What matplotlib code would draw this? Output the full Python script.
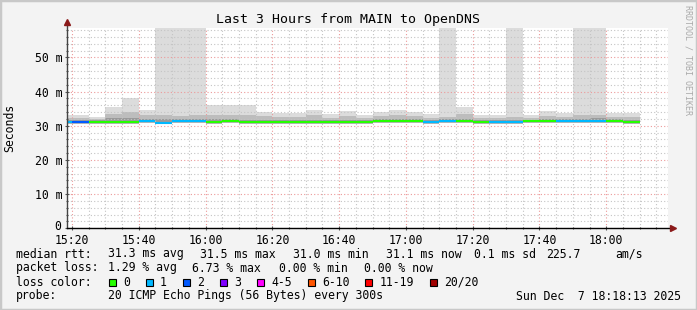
import matplotlib
matplotlib.use('Agg')
import matplotlib.pyplot as plt
import matplotlib.patches as mpatches
import matplotlib.transforms as mtransforms
import numpy as np

# ── Data ──────────────────────────────────────────────────────────────────────
# 5-minute steps, minutes after 15:00 (first step starts 15:15)
step_start = [15, 20, 25, 30, 35, 40, 45, 50, 55, 60, 65, 70, 75, 80, 85, 90, 95, 100,
              105, 110, 115, 120, 125, 130, 135, 140, 145, 150, 155, 160, 165, 170,
              175, 180, 185]
step_len = 5

# median rtt (ms)
rtt_median = [31.0, 31.0, 31.0, 31.0, 31.0, 31.3, 30.9, 31.3, 31.3, 31.0, 31.3, 31.0,
              31.0, 31.0, 31.0, 31.0, 31.0, 31.0, 31.0, 31.3, 31.3, 31.3, 31.0, 31.3,
              31.3, 31.0, 31.0, 31.0, 31.3, 31.3, 31.3, 31.3, 31.3, 31.3, 31.0]
# smoke: highest ping (ms), tall ones run off the top
rtt_max = [33.2, 33.0, 32.6, 35.4, 38.0, 34.7, 62.0, 62.0, 62.0, 36.0, 36.0, 36.0,
           34.0, 33.8, 33.8, 34.5, 33.5, 34.3, 33.2, 34.0, 34.5, 34.0, 33.5, 62.0,
           35.5, 33.0, 33.2, 62.0, 33.2, 34.2, 33.8, 62.0, 62.0, 33.8, 33.8]
# smoke: upper band
rtt_hi = [32.3, 32.2, 32.0, 33.5, 33.9, 33.0, 33.0, 32.8, 33.0, 33.2, 33.0, 33.0,
          32.8, 32.6, 32.6, 33.0, 32.4, 32.8, 32.2, 32.8, 33.0, 32.8, 32.4, 32.6,
          33.3, 32.2, 32.2, 32.6, 32.3, 32.8, 32.6, 33.0, 33.2, 32.6, 32.6]
# smoke: dark band just above the median
rtt_q = [31.7, 31.6, 31.6, 32.2, 32.4, 32.0, 31.9, 31.9, 32.0, 31.9, 32.0, 31.8,
         31.7, 31.8, 31.8, 31.8, 31.6, 31.7, 31.6, 31.9, 31.9, 31.9, 31.6, 31.9,
         32.0, 31.6, 31.6, 31.8, 31.8, 31.9, 31.9, 32.0, 32.3, 31.9, 31.7]
# smoke: lowest ping
rtt_min = [30.6, 30.6, 30.6, 30.6, 30.6, 30.8, 30.5, 30.8, 30.8, 30.6, 30.8, 30.6,
           30.6, 30.6, 30.6, 30.6, 30.6, 30.6, 30.6, 30.8, 30.8, 30.8, 30.6, 30.8,
           30.8, 30.6, 30.6, 30.6, 30.8, 30.8, 30.8, 30.8, 30.8, 30.8, 30.6]
# lost pings per step (index into loss colours)
loss_idx = [1, 2, 0, 0, 0, 1, 1, 1, 1, 0, 0, 0, 0, 0, 0, 0, 0, 0, 0, 0, 0, 0, 1, 1,
            0, 0, 1, 1, 0, 0, 1, 1, 1, 0, 0]

loss_labels = ['0', '1', '2', '3', '4-5', '6-10', '11-19', '20/20']
loss_colors = ['#26ff00', '#00b8ff', '#0059ff', '#7e00ff', '#ff00ff', '#ff5500',
               '#ff0000', '#a00000']

xtick_min = [20, 40, 60, 80, 100, 120, 140, 160, 180]
xtick_labels = ['15:20', '15:40', '16:00', '16:20', '16:40', '17:00', '17:20', '17:40', '18:00']
ytick_ms = [0, 10, 20, 30, 40, 50]
ytick_labels = ['0', '10 m', '20 m', '30 m', '40 m', '50 m']

rtt_stats = ['31.3 ms avg', '31.5 ms max', '31.0 ms min', '31.1 ms now', '0.1 ms sd',
             '225.7', 'am/s']
loss_stats = ['1.29 % avg', '6.73 % max', '0.00 % min', '0.00 % now']

# ── Style & Layout ────────────────────────────────────────────────────────────
W, H = 697, 310
plt.rcParams['font.family'] = 'DejaVu Sans Mono'
fig = plt.figure(figsize=(W / 100, H / 100), dpi=100)
fig.patch.set_facecolor('#f3f3f3')
fig.add_artist(mpatches.Rectangle((0, 0), 1, 1, transform=fig.transFigure,
                                  fill=False, edgecolor='#c8c8c8', lw=2.5))

def fx(x):
    return x / W

def fy(y):
    return 1 - y / H

ax = fig.add_axes([fx(67), fy(228.3), fx(668) - fx(67), fy(28.3) - fy(228.3)])
ax.set_facecolor('white')

edges = np.array(step_start + [step_start[-1] + step_len])
lefts = np.array(step_start)
rights = lefts + step_len

# ── Smoke ─────────────────────────────────────────────────────────────────────
ax.stairs(rtt_max, edges, baseline=rtt_hi, fill=True, color='#dcdcdc', lw=0, zorder=1)
ax.stairs(rtt_hi, edges, baseline=rtt_q, fill=True, color='#bdbdbd', lw=0, zorder=1)
ax.stairs(rtt_q, edges, baseline=rtt_median, fill=True, color='#9a9a9a', lw=0, zorder=1)
ax.stairs(rtt_median, edges, baseline=rtt_min, fill=True, color='#b4b4b4', lw=0, zorder=1)

# ── Median line coloured by loss ──────────────────────────────────────────────
ax.hlines(rtt_median, lefts, rights, colors=[loss_colors[i] for i in loss_idx],
          lw=1.5, zorder=3)

# ── Axes / grid ───────────────────────────────────────────────────────────────
ax.set_xlim(18.5, 198.5)
ax.set_ylim(0, 58.5)
ax.set_xticks(xtick_min)
ax.set_xticklabels(xtick_labels)
ax.set_xticks(np.arange(20, 199, 5), minor=True)
ax.set_yticks(ytick_ms)
ax.set_yticklabels(ytick_labels)
ax.set_yticks(np.arange(0, 58.5, 2), minor=True)
ax.grid(True, which='minor', color='#c4c4c4', lw=0.8, linestyle=(0, (1, 2)), zorder=2)
ax.grid(True, which='major', color='#ec9a9a', lw=0.8, linestyle=(0, (1, 2)), zorder=2)
ax.set_axisbelow(False)
ax.tick_params(which='both', direction='inout', colors='#555555', labelcolor='black',
               labelsize=8.3, length=3, width=0.8)
ax.tick_params(which='minor', length=2)
ax.tick_params(axis='x', pad=2.5)
ax.tick_params(axis='y', pad=2)
for s in ['top', 'right', 'left', 'bottom']:
    ax.spines[s].set_visible(False)

# nudge the "0" label up a little so it clears the first time label
zero_lab = ax.get_yticklabels()[0]
zero_lab.set_transform(zero_lab.get_transform() +
                       mtransforms.ScaledTranslation(-1 / 100, 3 / 100, fig.dpi_scale_trans))

# axis lines with arrowheads
ax.plot([0, 0], [0, 1.03], transform=ax.transAxes, color='#444444', lw=1, clip_on=False, zorder=4)
ax.plot([0, 1.008], [0, 0], transform=ax.transAxes, color='black', lw=1, clip_on=False, zorder=4)
ax.plot([0], [1.03], transform=ax.transAxes, marker='^', ms=4.5, color='#8b1a1a',
        clip_on=False, zorder=5)
ax.plot([1.008], [0], transform=ax.transAxes, marker='>', ms=4.5, color='#8b1a1a',
        clip_on=False, zorder=5)

# ── Texts ─────────────────────────────────────────────────────────────────────
fig.text(fx(348), fy(19), 'Last 3 Hours from MAIN to OpenDNS', ha='center', va='center',
         fontsize=9.5)
fig.text(fx(10), fy(128), 'Seconds', rotation=90, ha='center', va='center', fontsize=8.3)
fig.text(fx(688), fy(5), 'RRDTOOL / TOBI OETIKER', rotation=270, ha='center', va='top',
         fontsize=6, color='#aaaaaa')

fs = 8.3
rows = [254, 268, 282, 296]
fig.text(fx(16), fy(rows[0]), 'median rtt:', va='center', fontsize=fs)
for x, t in zip([107.6, 200, 293, 386, 474, 546, 615], rtt_stats):
    fig.text(fx(x), fy(rows[0]), t, va='center', fontsize=fs)

fig.text(fx(16), fy(rows[1]), 'packet loss:', va='center', fontsize=fs)
for x, t in zip([107.6, 192, 279, 364], loss_stats):
    fig.text(fx(x), fy(rows[1]), t, va='center', fontsize=fs)

fig.text(fx(16), fy(rows[2]), 'loss color:', va='center', fontsize=fs)
box_x = [108.5, 145.5, 182.5, 219.5, 256.5, 307.5, 365, 430]
for bx, lab, col in zip(box_x, loss_labels, loss_colors):
    fig.add_artist(mpatches.Rectangle((fx(bx), fy(rows[2] + 3.5)), 7 / W, 7 / H,
                                      transform=fig.transFigure, facecolor=col,
                                      edgecolor='black', lw=0.8))
    fig.text(fx(bx + 14.5), fy(rows[2]), lab, va='center', fontsize=fs)

fig.text(fx(16), fy(rows[3]), 'probe:', va='center', fontsize=fs)
fig.text(fx(107.6), fy(rows[3]), '20 ICMP Echo Pings (56 Bytes) every 300s', va='center',
         fontsize=fs)
fig.text(fx(681), fy(rows[3]), 'Sun Dec  7 18:18:13 2025', va='center', ha='right',
         fontsize=fs)

# ── Save ──────────────────────────────────────────────────────────────────────
fig.savefig('out.png', dpi=100, facecolor=fig.get_facecolor())
